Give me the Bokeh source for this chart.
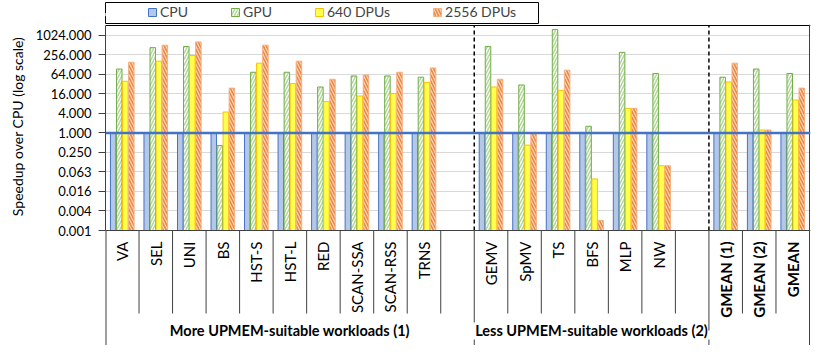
import math
from bokeh.plotting import figure
from bokeh.models import (ColumnDataSource, Range1d, FixedTicker, CustomJSTickFormatter,
                          Span, Legend, LegendItem, LogAxis, LogScale, Grid)
from bokeh.layouts import column, row
from bokeh.transform import dodge
from bokeh.core.properties import value
from bokeh.embed import file_html
from bokeh.resources import INLINE

# ---------------- data ----------------
workloads1 = ["VA", "SEL", "UNI", "BS", "HST-S", "HST-L", "RED", "SCAN-SSA", "SCAN-RSS", "TRNS"]
workloads2 = ["GEMV", "SpMV", "TS", "BFS", "MLP", "NW"]
gmeans = ["GMEAN (1)", "GMEAN (2)", "GMEAN"]
group_labels = ["More UPMEM-suitable workloads (1)", "Less UPMEM-suitable workloads (2)"]

series_names = ["CPU", "GPU", "640 DPUs", "2556 DPUs"]
cpu = [1.0] * 19
gpu = [93, 425, 460, 0.41, 74, 74, 26, 57, 57, 52,
       460, 30, 1530, 1.6, 305, 68,
       52, 93, 68]
dpu640 = [39, 163, 243, 4.4, 141, 33, 9.2, 13.7, 16.2, 36,
          26, 0.42, 20.5, 0.038, 5.7, 0.097,
          37, 1.23, 10.3]
dpu2556 = [151, 505, 640, 24, 505, 163, 45, 61, 74, 101,
           45, 0.93, 86, 0.002, 5.7, 0.097,
           141, 1.23, 24]
y_ticks = [4.0 ** k for k in range(-5, 6)]
y_axis_title = "Speedup over CPU (log scale)"

# ---------------- layout helpers ----------------
FONT = "Lato"
names = workloads1 + workloads2 + gmeans
slots = list(range(0, 10)) + list(range(11, 17)) + list(range(18, 21))
xc = [s + 0.5 for s in slots]
NSLOT = 21
LOG_LO, LOG_HI = -5.0, 5.5          # exponents (base 4) of the bar area
BAR_H = 205                          # px height of bar area
LAB_H = 115                          # px height of label area below
TOP_PAD = 1
YMIN, YMAX = 4.0 ** LOG_LO, 4.0 ** LOG_HI
steps_per_px = (LOG_HI - LOG_LO) / BAR_H
log_range = Range1d(4.0 ** (LOG_LO - LAB_H * steps_per_px), 4.0 ** (LOG_HI + TOP_PAD * steps_per_px))

LEFT = 105
TITLE_W = 28
SLOT_PX = 704 / NSLOT
FRAME_W = 705
RIGHT = 8
FIG_H = BAR_H + LAB_H + TOP_PAD
xr = Range1d(0, NSLOT + 1 / SLOT_PX)
yr = Range1d(-LAB_H, BAR_H + TOP_PAD)

src = ColumnDataSource(dict(x=xc, name=names, cpu=cpu, gpu=gpu, d640=dpu640, d2556=dpu2556,
                            bottom=[YMIN] * len(names)))

styles = [
    dict(fill_color="#b4c7e7", line_color="#4472c4"),
    dict(fill_color="white", line_color="#70ad47", hatch_pattern="/", hatch_color="#b5d99c",
         hatch_weight=1.6, hatch_scale=6),
    dict(fill_color="#ffff4d", line_color="#ffc000"),
    dict(fill_color="#fbd9c2", line_color="#f4b183", hatch_pattern="\\", hatch_color="#ee8640",
         hatch_weight=1.6, hatch_scale=6),
]
cols = ["cpu", "gpu", "d640", "d2556"]
offsets = [-0.27, -0.09, 0.09, 0.27]
BW = 0.165

# ---------------- y-axis title strip ----------------
tt = figure(width=TITLE_W, height=FIG_H, x_range=Range1d(0, TITLE_W), y_range=yr,
            x_axis_location=None, y_axis_location=None, output_backend="svg",
            toolbar_location=None, min_border_left=0, min_border_right=0,
            min_border_top=0, min_border_bottom=0)
tt.outline_line_color = None
tt.xgrid.visible = False
tt.ygrid.visible = False
tt.text(x=[17], y=[104], text=[y_axis_title], angle=math.pi / 2, text_align="center",
        text_baseline="middle", text_font=value(FONT), text_font_size="14px", text_color="black")

# ---------------- main plot (bars + category labels) ----------------
p = figure(width=LEFT - TITLE_W + FRAME_W + RIGHT, height=FIG_H, x_range=xr,
           y_range=yr, x_axis_location=None, y_axis_location=None,
           output_backend="svg", toolbar_location=None,
           min_border_left=LEFT - TITLE_W, min_border_right=RIGHT, min_border_top=0, min_border_bottom=0)
p.extra_y_ranges = {"log": log_range}
p.extra_y_scales = {"log": LogScale()}
p.outline_line_color = None
p.xgrid.visible = False
p.ygrid.visible = False

ticker = FixedTicker(ticks=y_ticks, minor_ticks=[])
ax = LogAxis(y_range_name="log", ticker=ticker, bounds=(YMIN, YMAX),
             formatter=CustomJSTickFormatter(code="return tick.toFixed(3);"))
ax.axis_line_color = "#404040"
ax.major_tick_line_color = "#404040"
ax.major_tick_in = 0
ax.major_tick_out = 7
ax.minor_tick_line_color = None
ax.major_label_text_font = FONT
ax.major_label_text_font_size = "13px"
ax.major_label_text_color = "black"
ax.major_label_standoff = 7
p.add_layout(ax, "left")
p.add_layout(Grid(dimension=1, ticker=ticker, y_range_name="log",
                  grid_line_color="#d9d9d9", grid_line_width=1))

for c, off, st in zip(cols, offsets, styles):
    p.vbar(x=dodge("x", off, range=xr), top=c, bottom="bottom", width=BW, source=src,
           line_width=1, y_range_name="log", **st)

# frame lines
p.add_layout(Span(location=YMAX, dimension="width", y_range_name="log", line_color="black", line_width=1))
p.add_layout(Span(location=YMIN, dimension="width", y_range_name="log", line_color="#404040", line_width=1))
p.add_layout(Span(location=NSLOT, dimension="height", line_color="#404040", line_width=1))
p.add_layout(Span(location=1, dimension="width", y_range_name="log", line_color="#4472c4", line_width=2.5))
# dashed group dividers inside bar area
p.segment(x0=[11, 18], y0=[0, 0], x1=[11, 18], y1=[BAR_H, BAR_H],
          line_color="black", line_width=1.5, line_dash="4 3")

# category separators
inner = [s for s in range(1, NSLOT) if s not in (11, 18)]
p.segment(x0=inner, y0=[0] * len(inner), x1=inner, y1=[-83] * len(inner),
          line_color="#404040", line_width=1)
p.segment(x0=[11, 18, 11, 18], y0=[0, 0, -109, -109], x1=[11, 18, 11, 18],
          y1=[-92, -100, -LAB_H, -LAB_H], line_color="#404040", line_width=1)
# left edge of the category area (continuation of the y axis line)
p.segment(x0=[0], y0=[0], x1=[0], y1=[-LAB_H], line_color="#404040", line_width=2)

lab = ColumnDataSource(dict(x=xc, y=[-11] * len(names), text=names,
                            style=["normal"] * (len(workloads1) + len(workloads2)) + ["bold"] * len(gmeans)))
p.text(x="x", y="y", text="text", source=lab, angle=math.pi / 2, text_align="right",
       text_baseline="middle", text_font=value(FONT), text_font_size="15px",
       text_font_style="style", text_color="black")
p.text(x=[5.5, 14.5], y=[-100, -100], text=group_labels, text_align="center",
       text_baseline="middle", text_font=value(FONT), text_font_size="14.5px",
       text_font_style="bold", text_color="black")

# ---------------- legend strip ----------------
LW = 434
lg = figure(width=LEFT + LW, height=24, x_range=Range1d(0, LW), y_range=Range1d(0, 1),
            output_backend="svg", toolbar_location=None,
            x_axis_location=None, y_axis_location=None,
            min_border_left=LEFT, min_border_right=0, min_border_top=2, min_border_bottom=0)
lg.outline_line_color = "black"
lg.xgrid.visible = False
lg.ygrid.visible = False
items = []
for nm, st in zip(series_names, styles):
    r = lg.vbar(x=[-10], top=[0.5], bottom=[0.4], width=1, line_width=1, **st)
    items.append(LegendItem(label=nm, renderers=[r]))
leg = Legend(items=items, orientation="horizontal", location=(42, 4),
             border_line_color=None, background_fill_alpha=0, padding=0, margin=0,
             spacing=42, label_standoff=3, glyph_width=10, glyph_height=10,
             label_text_font=FONT, label_text_font_size="14px", label_height=14)
lg.add_layout(leg)

layout = column(lg, row(tt, p, spacing=0), spacing=0)
open("out.html", "w").write(file_html(layout, INLINE))
